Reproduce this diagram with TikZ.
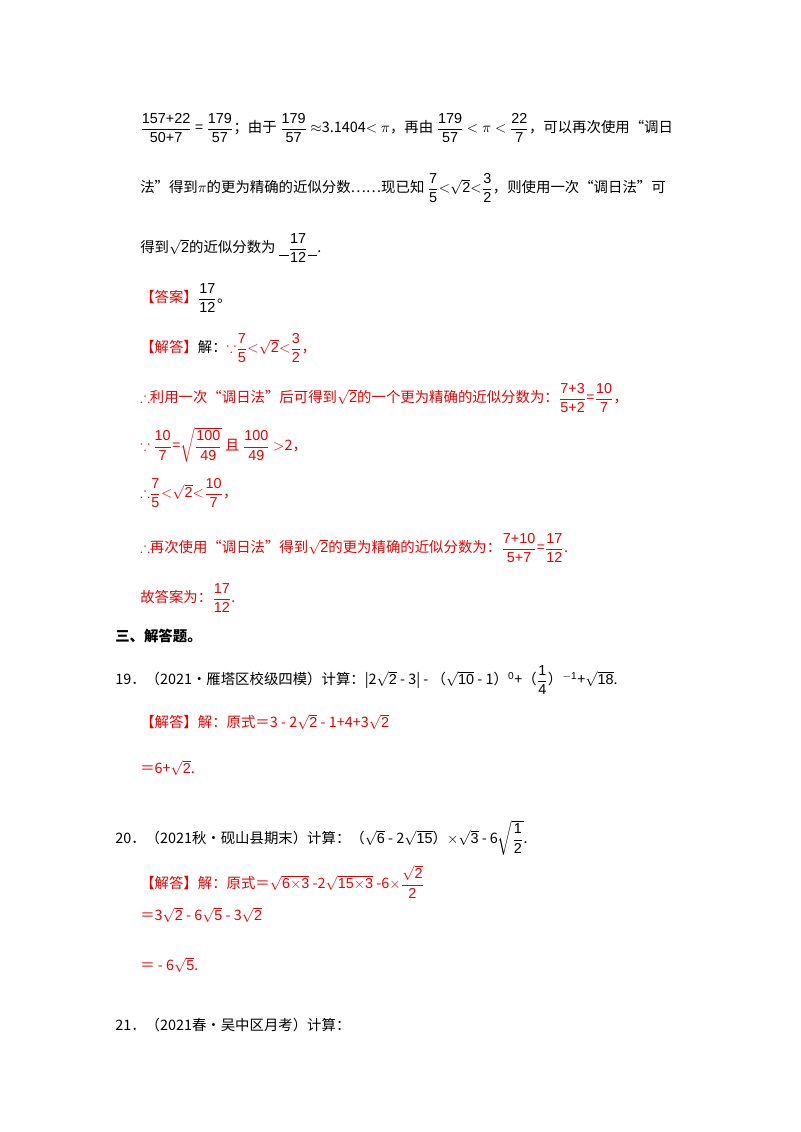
\documentclass[tikz,border=0pt]{standalone}
\usepackage{amsmath,amssymb}
\usepackage{fontspec}
\setmainfont{Noto Sans CJK SC}
\setsansfont{Liberation Sans}
\definecolor{rd}{RGB}{235,0,0}
\newcommand{\fr}[2]{$\dfrac{\textsf{#1}}{\textsf{#2}}$}
\newcommand{\rt}[1]{$\sqrt{\textsf{#1}}$}
\begin{document}
\begin{tikzpicture}[x=0.75pt,y=-0.75pt]
\tikzset{ln/.style={anchor=west,inner sep=0pt,font=\fontsize{10.8}{12}\selectfont}}
\useasboundingbox[fill=white] (0,0) rectangle (800,1132);
\node[ln] (l1) at (140,128) {\fr{157+22}{50+7} = \fr{179}{57}；由于 \fr{179}{57} $\approx$3.1404$<\pi$，再由 \fr{179}{57} $<\pi<$ \fr{22}{7}，可以再次使用“调日};
\node[ln] (l2) at (140,188) {法”得到$\pi$的更为精确的近似分数……现已知 \fr{7}{5}$<$\rt{2}$<$\fr{3}{2}，则使用一次“调日法”可};
\node[ln] (l3) at (140,248) {得到\rt{2}的近似分数为 \underline{\ \ \ }\fr{17}{12}\underline{\ \ \ }.};
\node[ln] (l4) at (140,298) {\textcolor{rd}{【答案】}\fr{17}{12}。};
\node[ln] (l5) at (140,348) {\textcolor{rd}{【解答】}解：\textcolor{rd}{$\because$\fr{7}{5}$<$\rt{2}$<$\fr{3}{2}，}};
\node[ln,rd] (l6) at (140,398) {$\therefore$利用一次“调日法”后可得到\rt{2}的一个更为精确的近似分数为：\fr{7+3}{5+2}=\fr{10}{7}，};
\node[ln,rd] (l7) at (140,445) {$\because$ \fr{10}{7}=$\sqrt{\dfrac{\textsf{100}}{\textsf{49}}}$ 且 \fr{100}{49} $>$2，};
\node[ln,rd] (l8) at (140,493) {$\therefore$\fr{7}{5}$<$\rt{2}$<$\fr{10}{7}，};
\node[ln,rd] (l9) at (140,548) {$\therefore$再次使用“调日法”得到\rt{2}的更为精确的近似分数为：\fr{7+10}{5+7}=\fr{17}{12}.};
\node[ln,rd] (l10) at (140,598) {故答案为：\fr{17}{12}.};
\node[ln,font=\fontsize{10.8}{12}\bfseries] (h) at (115,636) {三、解答题。};
\node[ln] (q19) at (115,680) {19．（2021•雁塔区校级四模）计算：|2\rt{2} - 3| - （\rt{10} - 1）$^{\textsf{0}}$+（\fr{1}{4}）$^{-\textsf{1}}$+\rt{18}.};
\node[ln,rd] (a19) at (140,722) {【解答】解：原式＝3 - 2\rt{2} - 1+4+3\rt{2}};
\node[ln,rd] (b19) at (140,768) {＝6+\rt{2}.};
\node[ln] (q20) at (115,838) {20．（2021秋•砚山县期末）计算：（\rt{6} - 2\rt{15}）$\times$\rt{3} - 6$\sqrt{\dfrac{\textsf{1}}{\textsf{2}}}$.};
\node[ln,rd] (a20) at (140,882) {【解答】解：原式＝\rt{6$\times$3} -2\rt{15$\times$3} -6$\times$$\dfrac{\sqrt{\textsf{2}}}{\textsf{2}}$};
\node[ln,rd] (b20) at (140,915) {＝3\rt{2} - 6\rt{5} - 3\rt{2}};
\node[ln,rd] (c20) at (140,965) {＝ - 6\rt{5}.};
\node[ln] (q21) at (115,1025) {21．（2021春•吴中区月考）计算：};
\end{tikzpicture}
\end{document}
